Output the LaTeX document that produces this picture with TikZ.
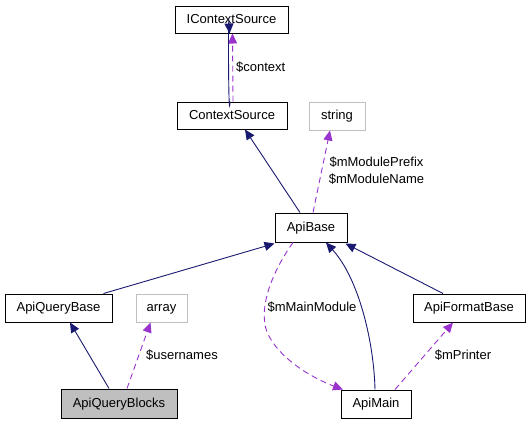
\documentclass[tikz,border=0pt]{standalone}
\usepackage{fontspec}
\setmainfont{Liberation Sans}
\usetikzlibrary{arrows.meta}
\definecolor{navyedge}{HTML}{191970}
\definecolor{purpleedge}{HTML}{9A32CD}
\definecolor{grayborder}{HTML}{BFBFBF}
\tikzset{
  cls/.style={draw=black, line width=1pt, fill=white, inner sep=0pt,
    text height=10pt, text depth=3pt,
    font=\fontsize{13}{15}\selectfont},
  ext/.style={cls, draw=grayborder},
  focus/.style={cls, fill=grayborder},
  inherit/.style={draw=navyedge, line width=0.9pt,
    -{Triangle[length=10pt,width=9pt]}},
  usage/.style={draw=purpleedge, line width=0.9pt, dash pattern=on 6pt off 4pt,
    -{Triangle[length=10pt,width=9pt]}},
  lbl/.style={font=\fontsize{13}{15}\selectfont, inner sep=0pt, align=center}
}
\begin{document}
\begin{tikzpicture}[x=1pt,y=-1pt]
\useasboundingbox (0,0) rectangle (531,424);
% nodes
\node[cls, minimum width=113pt, minimum height=27pt] (ics) at (231.5,19.5) {IContextSource};
\node[cls, minimum width=110pt, minimum height=27pt] (cs) at (232,115.5) {ContextSource};
\node[ext, minimum width=56pt, minimum height=28pt] (str) at (337,116) {string};
\node[cls, minimum width=72pt, minimum height=29pt] (ab) at (311,227.5) {ApiBase};
\node[cls, minimum width=107pt, minimum height=28pt] (aqb) at (58.5,308) {ApiQueryBase};
\node[ext, minimum width=51pt, minimum height=28pt] (arr) at (161.5,308) {array};
\node[cls, minimum width=112pt, minimum height=28pt] (afb) at (469,308) {ApiFormatBase};
\node[focus, minimum width=116pt, minimum height=29pt] (aqbl) at (119,403.5) {ApiQueryBlocks};
\node[cls, minimum width=70pt, minimum height=28pt] (am) at (376,404) {ApiMain};
% edges
\draw[usage] ([xshift=1pt]cs.north) -- ([xshift=1pt]ics.south);
\draw[inherit] ([xshift=-2pt]cs.north) .. controls ([xshift=-3.5pt,yshift=-30pt]cs.north) and ([xshift=-3.5pt,yshift=30pt]ics.south) .. ([xshift=-2pt]ics.south);
\node[lbl, anchor=west] (lctx) at (236,67) {\$context};

\draw[inherit] ([xshift=-11pt]ab.north) -- ([xshift=13pt]cs.south);
\draw[usage] ([xshift=2pt]ab.north) -- ([xshift=-7pt]str.south);
\node[lbl] (lmod) at (376.5,171) {\$mModulePrefix\\[2pt]\$mModuleName};

\draw[inherit] ([xshift=45pt]aqb.north) -- ([yshift=-1pt]ab.south west);
\draw[inherit] ([xshift=-10pt]aqbl.north) -- ([xshift=11.5pt]aqb.south);
\draw[usage] ([xshift=8pt]aqbl.north) -- ([xshift=-11pt]arr.south);
\node[lbl] (lusr) at (182,355) {\$usernames};

\draw[inherit] ([xshift=-26pt]afb.north) -- ([xshift=-2pt,yshift=-1pt]ab.south east);
\draw[inherit] ([xshift=-1pt]am.north) .. controls (374,345) and (360,280) .. ([xshift=15pt]ab.south);
\draw[usage] ([xshift=-18pt]ab.south) .. controls (272,272) and (258,308) .. (267,332)
  .. controls (278,358) and (312,378) .. ([xshift=-33pt]am.north);
\node[lbl] (lmain) at (312,307) {\$mMainModule};

\draw[usage] ([xshift=19pt]am.north) -- ([xshift=-16pt]afb.south);
\node[lbl] (lprn) at (463,355) {\$mPrinter};
\end{tikzpicture}
\end{document}
